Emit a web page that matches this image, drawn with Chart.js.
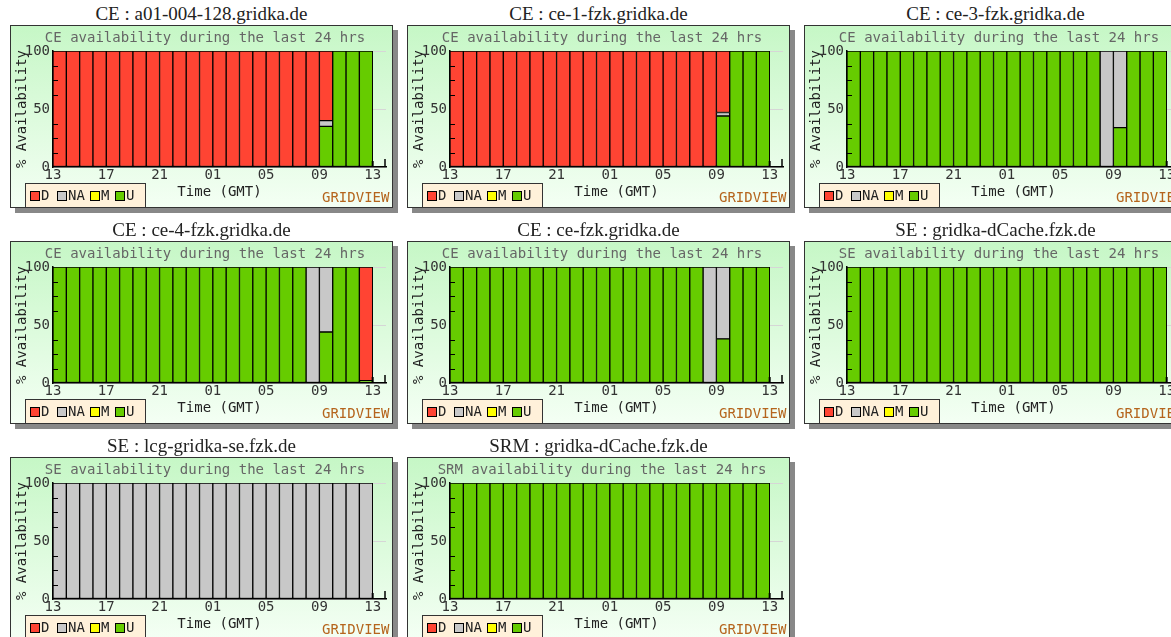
<!DOCTYPE html>
<html lang="en">
<head>
    <meta charset="UTF-8">
    <title>GridView availability</title>
    <style>
        body { margin: 0; background: #fff; overflow: hidden; width: 1171px; height: 637px; position: relative; }
        .panel { position: absolute; width: 381px; height: 181px; border: 1px solid #333;
                 background: linear-gradient(to bottom, #c6f7c6, #f4fff4); box-shadow: 5px 5px 0 #888; }
        .panel canvas { position: absolute; left: 0; top: 0; }
        .ptitle { position: absolute; left: -1px; top: -22px; width: 383px; text-align: center;
                  font: 19px 'Liberation Serif', serif; line-height: 20px; color: #222; white-space: nowrap; }
        .sub { position: absolute; left: 0; top: 0; width: 374px; padding-left: 7px; text-align: center;
               font: 14px 'DejaVu Sans Mono', monospace; line-height: 22px; color: #666; white-space: nowrap; }
        .legend { position: absolute; left: 14px; top: 157px; width: 119px; height: 23px; background: #fff1da;
                  border: 1px solid #333; border-bottom: none; font: 14px 'DejaVu Sans Mono', monospace;
                  color: #222; }
        .legend .it { position: absolute; top: 0; height: 23px; line-height: 23px; white-space: nowrap; }
        .legend .sq { display: inline-block; width: 8px; height: 8px; border: 1px solid #000; margin-right: 1px; vertical-align: -1px; }
        .gv { position: absolute; left: 311px; top: 162px; font: 14px 'DejaVu Sans Mono', monospace;
              line-height: 18px; color: #b5651d; }
    </style>
</head>
<body>
<script src="https://cdn.jsdelivr.net/npm/chart.js"></script>
<script>
// hour of each bar, 24 bars starting 13 GMT
const hours = ['13','14','15','16','17','18','19','20','21','22','23','00','01','02','03','04','05','06','07','08','09','10','11','12'];
const minorTicks = [12.5, 25, 37.5, 62.5, 75, 87.5];
const zero24 = [0,0,0,0,0,0,0,0,0,0,0,0,0,0,0,0,0,0,0,0,0,0,0,0];

// CE : a01-004-128.gridka.de
const a01_D  = [100,100,100,100,100,100,100,100,100,100,100,100,100,100,100,100,100,100,100,100,60,0,0,0];
const a01_NA = [0,0,0,0,0,0,0,0,0,0,0,0,0,0,0,0,0,0,0,0,5,0,0,0];
const a01_U  = [0,0,0,0,0,0,0,0,0,0,0,0,0,0,0,0,0,0,0,0,35,100,100,100];
// CE : ce-1-fzk.gridka.de
const ce1_D  = [100,100,100,100,100,100,100,100,100,100,100,100,100,100,100,100,100,100,100,100,53,0,0,0];
const ce1_NA = [0,0,0,0,0,0,0,0,0,0,0,0,0,0,0,0,0,0,0,0,3,0,0,0];
const ce1_U  = [0,0,0,0,0,0,0,0,0,0,0,0,0,0,0,0,0,0,0,0,44,100,100,100];
// CE : ce-3-fzk.gridka.de
const ce3_NA = [0,0,0,0,0,0,0,0,0,0,0,0,0,0,0,0,0,0,0,100,66,0,0,0];
const ce3_U  = [100,100,100,100,100,100,100,100,100,100,100,100,100,100,100,100,100,100,100,0,34,100,100,100];
// CE : ce-4-fzk.gridka.de
const ce4_D  = [0,0,0,0,0,0,0,0,0,0,0,0,0,0,0,0,0,0,0,0,0,0,0,98];
const ce4_NA = [0,0,0,0,0,0,0,0,0,0,0,0,0,0,0,0,0,0,0,100,56,0,0,0];
const ce4_U  = [100,100,100,100,100,100,100,100,100,100,100,100,100,100,100,100,100,100,100,0,44,100,100,2];
// CE : ce-fzk.gridka.de
const cefzk_NA = [0,0,0,0,0,0,0,0,0,0,0,0,0,0,0,0,0,0,0,100,62,0,0,0];
const cefzk_U  = [100,100,100,100,100,100,100,100,100,100,100,100,100,100,100,100,100,100,100,0,38,100,100,100];
// SE : gridka-dCache.fzk.de
const dcache_U = [100,100,100,100,100,100,100,100,100,100,100,100,100,100,100,100,100,100,100,100,100,100,100,100];
// SE : lcg-gridka-se.fzk.de
const lcgse_NA = [100,100,100,100,100,100,100,100,100,100,100,100,100,100,100,100,100,100,100,100,100,100,100,100];
// SRM : gridka-dCache.fzk.de
const srm_U = [100,100,100,100,100,100,100,100,100,100,100,100,100,100,100,100,100,100,100,100,100,100,100,100];

const colD = '#ff4433', colNA = '#c8c8c8', colM = '#ffff00', colU = '#66cc00';

const panels = [
    {left: 10,  top: 25,  title: 'CE : a01-004-128.gridka.de', sub: 'CE availability during the last 24 hrs', D: a01_D, NA: a01_NA, M: zero24, U: a01_U},
    {left: 407, top: 25,  title: 'CE : ce-1-fzk.gridka.de', sub: 'CE availability during the last 24 hrs', D: ce1_D, NA: ce1_NA, M: zero24, U: ce1_U},
    {left: 804, top: 25,  title: 'CE : ce-3-fzk.gridka.de', sub: 'CE availability during the last 24 hrs', D: zero24, NA: ce3_NA, M: zero24, U: ce3_U},
    {left: 10,  top: 241, title: 'CE : ce-4-fzk.gridka.de', sub: 'CE availability during the last 24 hrs', D: ce4_D, NA: ce4_NA, M: zero24, U: ce4_U},
    {left: 407, top: 241, title: 'CE : ce-fzk.gridka.de', sub: 'CE availability during the last 24 hrs', D: zero24, NA: cefzk_NA, M: zero24, U: cefzk_U},
    {left: 804, top: 241, title: 'SE : gridka-dCache.fzk.de', sub: 'SE availability during the last 24 hrs', D: zero24, NA: zero24, M: zero24, U: dcache_U},
    {left: 10,  top: 457, title: 'SE : lcg-gridka-se.fzk.de', sub: 'SE availability during the last 24 hrs', D: zero24, NA: lcgse_NA, M: zero24, U: zero24},
    {left: 407, top: 457, title: 'SRM : gridka-dCache.fzk.de', sub: 'SRM availability during the last 24 hrs', D: zero24, NA: zero24, M: zero24, U: srm_U}
];

Chart.defaults.font.family = "'DejaVu Sans Mono', monospace";
Chart.defaults.font.size = 14;
Chart.defaults.color = '#222';

// small black marks on the axes like the original image
const axisMarks = {
    id: 'axisMarks',
    afterDatasetsDraw(chart) {
        const {ctx, chartArea: a} = chart;
        const x = chart.scales.x, y = chart.scales.y;
        ctx.save();
        ctx.strokeStyle = '#000';
        ctx.lineWidth = 1;
        minorTicks.forEach(v => {
            const py = Math.round(y.getPixelForValue(v)) + 0.5;
            ctx.beginPath(); ctx.moveTo(a.left, py); ctx.lineTo(a.left + 5, py); ctx.stroke();
        });
        ctx.lineWidth = 2;
        const px = x.getPixelForValue(24);
        ctx.beginPath(); ctx.moveTo(px, a.bottom); ctx.lineTo(px, a.bottom - 6); ctx.stroke();
        ctx.lineWidth = 1.5;
        ctx.beginPath(); ctx.moveTo(a.right - 1, a.bottom); ctx.lineTo(a.right - 1, a.bottom - 8); ctx.stroke();
        ctx.restore();
    }
};

function series(vals) {
    return hours.map((h, i) => ({x: i + 0.5, y: vals[i] ? vals[i] : null}));
}

// legend items: name, colour, left offset inside the legend box
function legendHtml() {
    const items = [['D', colD, 4], ['NA', colNA, 31], ['M', colM, 64], ['U', colU, 89]];
    return items.map(it => '<div class="it" style="left:' + it[2] + 'px"><span class="sq" style="background:' + it[1] + '"></span>' + it[0] + '</div>').join('');
}

panels.forEach(p => {
    const box = document.createElement('div');
    box.className = 'panel';
    box.style.left = p.left + 'px';
    box.style.top = p.top + 'px';
    box.innerHTML = '<div class="ptitle">' + p.title + '</div>'
        + '<canvas width="381" height="181"></canvas>'
        + '<div class="sub">' + p.sub + '</div>'
        + '<div class="legend">' + legendHtml() + '</div>'
        + '<div class="gv">GRIDVIEW</div>';
    document.body.appendChild(box);
    const ctx = box.querySelector('canvas');

    const mk = (label, vals, color) => ({
        label: label, data: series(vals), backgroundColor: color,
        borderColor: '#000', borderWidth: 1, borderSkipped: false,
        barPercentage: 1, categoryPercentage: 1
    });

    new Chart(ctx, {
        type: 'bar',
        data: {
            // bottom to top: U, M, NA, D
            datasets: [mk('U', p.U, colU), mk('M', p.M, colM), mk('NA', p.NA, colNA), mk('D', p.D, colD)]
        },
        options: {
            responsive: false,
            animation: false,
            layout: {padding: {top: 25, right: 6, left: 0, bottom: 0}},
            plugins: {legend: {display: false}, tooltip: {enabled: false}, title: {display: false}},
            scales: {
                x: {
                    type: 'linear', stacked: true, offset: false,
                    min: 0, max: 25,
                    grid: {display: false, offset: false, drawTicks: false},
                    border: {color: '#000', width: 1.5},
                    ticks: {
                        stepSize: 4, includeBounds: false, autoSkip: false, maxRotation: 0, padding: 0,
                        color: '#333',
                        callback: v => hours[v % 24]
                    },
                    title: {display: true, text: 'Time (GMT)', color: '#222', padding: {top: 0, bottom: 6}},
                    afterFit: s => { s.height = 40; }
                },
                y: {
                    stacked: true, min: 0, max: 100,
                    grid: {color: '#d6d6d6', drawTicks: false},
                    border: {color: '#000', width: 1.5},
                    ticks: {stepSize: 50, padding: 3, color: '#333'},
                    title: {display: true, text: '% Availability', color: '#222', padding: {top: 3, bottom: 0}},
                    afterFit: s => { s.width = 42; }
                }
            }
        },
        plugins: [axisMarks]
    });
});
</script>
</body>
</html>
